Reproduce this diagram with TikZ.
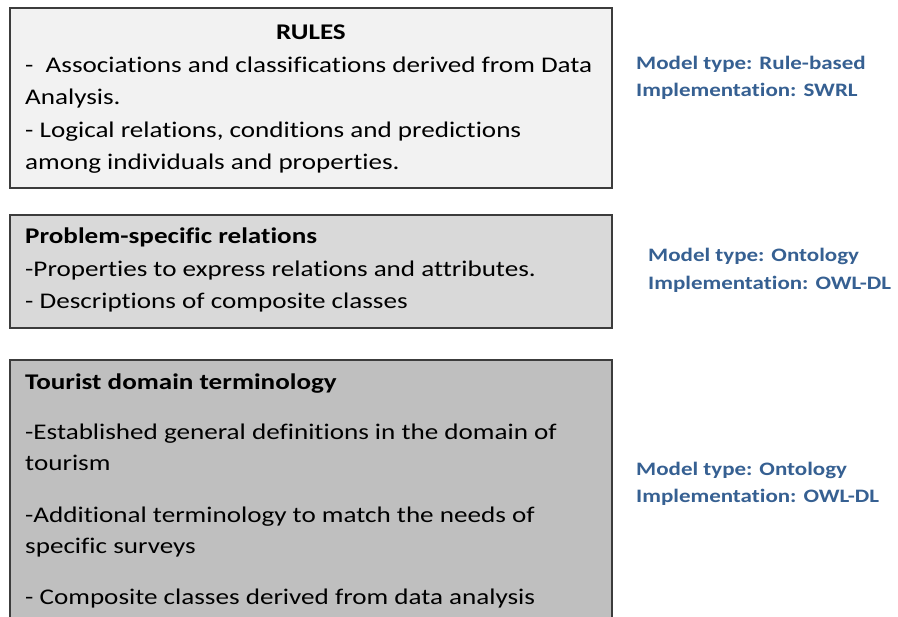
\documentclass[tikz,border=0pt]{standalone}
\usepackage{fontspec}
\setmainfont[FakeStretch=1.21,Ligatures=NoCommon]{Carlito}
\begin{document}
\begin{tikzpicture}[x=1pt,y=-1pt,
  layerbox/.style={draw=boxline,line width=1.3pt},
  body/.style={anchor=base west,inner sep=0pt,font=\fontsize{22.4}{26}\selectfont,text=black},
  head/.style={body,font=\fontsize{22.4}{26}\selectfont\bfseries},
  info/.style={anchor=base west,inner sep=0pt,text=infoblue,font=\fontsize{19}{22}\selectfont\bfseries}]
  \definecolor{boxline}{RGB}{60,60,60}
  \definecolor{fillA}{RGB}{242,242,242}
  \definecolor{fillB}{RGB}{217,217,217}
  \definecolor{fillC}{RGB}{191,191,191}
  \definecolor{infoblue}{RGB}{54,96,146}
  \useasboundingbox (0,0) rectangle (898,617);
  \fill[white] (0,0) rectangle (898,617);

  % rule layer
  \draw[layerbox,fill=fillA] (10,8) rectangle (612,188);
  \node[head,anchor=base] (rulesT) at (311,40) {RULES};
  \node[body] (r1) at (25,72.7) {-\ \ Associations and classifications derived from Data};
  \node[body] (r2) at (25,105) {Analysis.};
  \node[body] (r3) at (25,137.7) {- Logical relations, conditions and predictions};
  \node[body] (r4) at (25,169.5) {among individuals and properties.};
  \node[info] (i1a) at (636,70) {Model type: Rule-based};
  \node[info] (i1b) at (636,96.7) {Implementation: SWRL};

  % problem-specific layer
  \draw[layerbox,fill=fillB] (10,215) rectangle (612,328);
  \node[head] (pT) at (25,243.5) {Problem-specific relations};
  \node[body] (p1) at (25,276.5) {-Properties to express relations and attributes.};
  \node[body] (p2) at (25,309) {- Descriptions of composite classes};
  \node[info] (i2a) at (648,261.7) {Model type: Ontology};
  \node[info] (i2b) at (648,289.3) {Implementation: OWL-DL};

  % domain terminology layer (runs past the lower edge)
  \draw[layerbox,fill=fillC] (10,640) -- (10,360) -- (612,360) -- (612,640);
  \node[head] (tT) at (25,389.3) {Tourist domain terminology};
  \node[body] (t1) at (25,439.3) {-Established general definitions in the domain of};
  \node[body] (t2) at (25,471) {tourism};
  \node[body] (t3) at (25,522.5) {-Additional terminology to match the needs of};
  \node[body] (t4) at (25,554) {specific surveys};
  \node[body] (t5) at (25,605) {- Composite classes derived from data analysis};
  \node[info] (i3a) at (636,476) {Model type: Ontology};
  \node[info] (i3b) at (636,503) {Implementation: OWL-DL};
\end{tikzpicture}
\end{document}
